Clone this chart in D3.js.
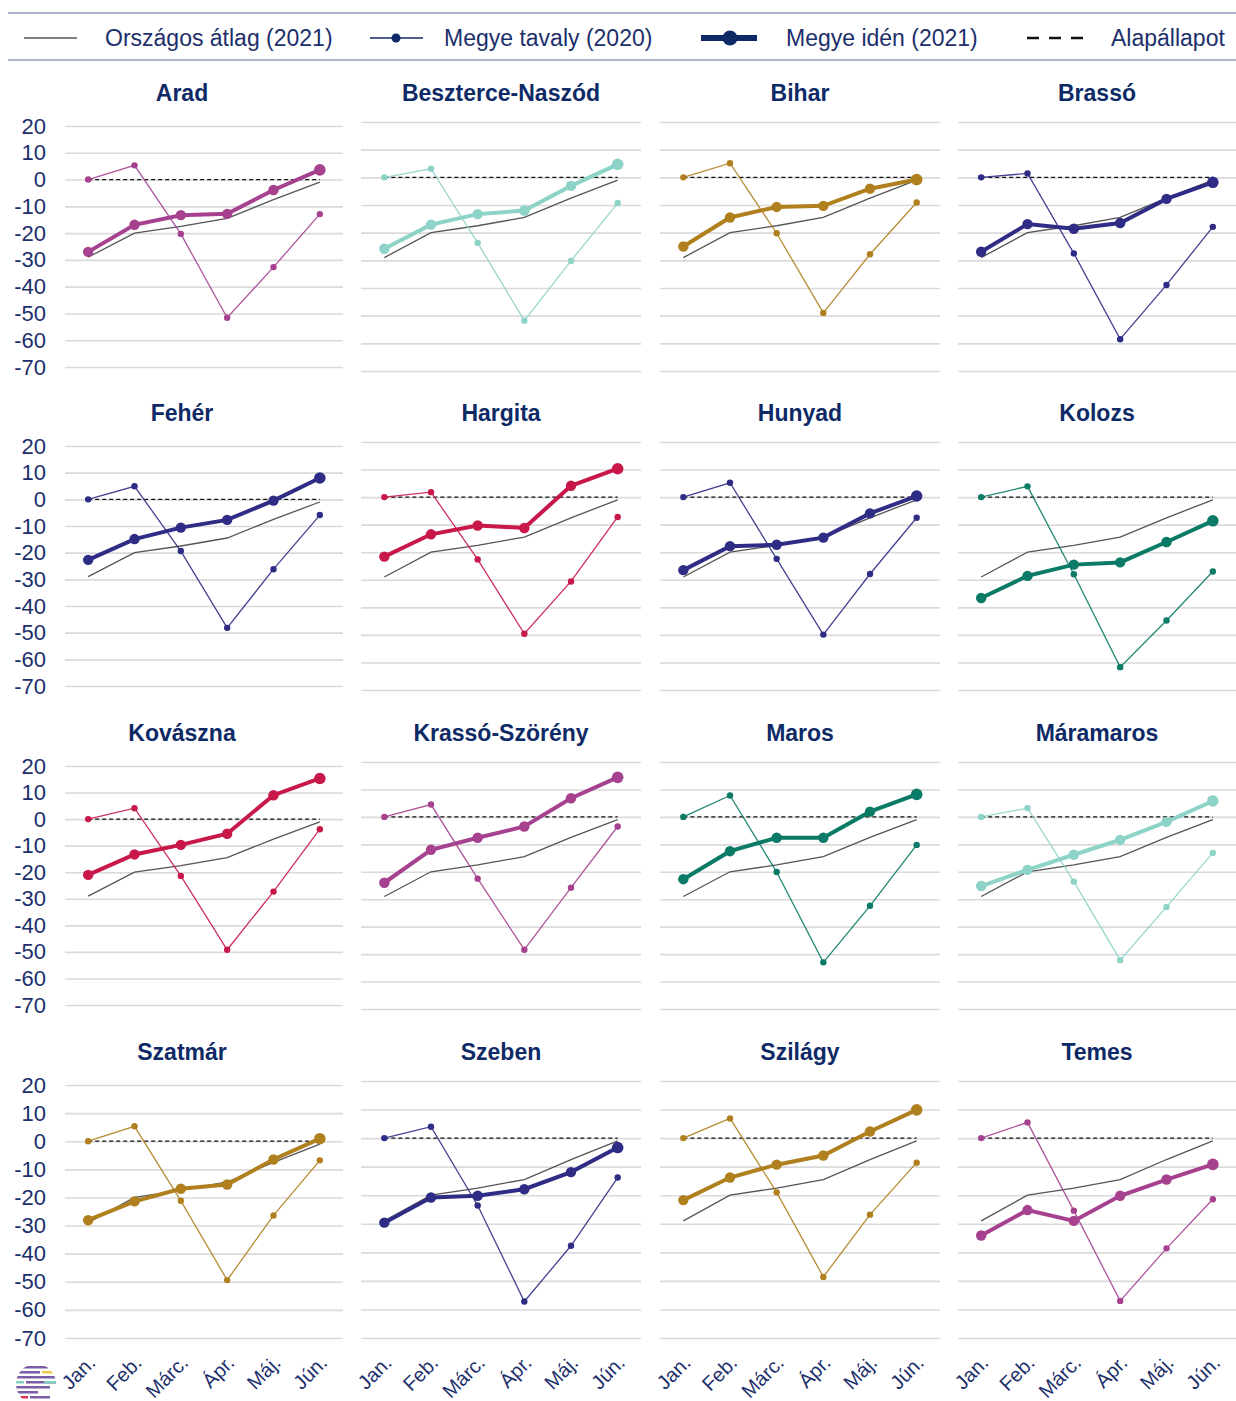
<!DOCTYPE html>
<html>
<head>
  <meta charset="utf-8">
  <title>Megyék 2020 / 2021</title>
  <script src="https://d3js.org/d3.v7.min.js"></script>
  <style>
    body { margin: 0; background: #fff; }
    svg text { font-family: "Liberation Sans", Arial, sans-serif; }
  </style>
</head>
<body>
<div id="chart"></div>
<script>
  // data
  const months = ["Jan.", "Feb.", "Márc.", "Ápr.", "Máj.", "Jún."];
  const counties = ["Arad", "Beszterce-Naszód", "Bihar", "Brassó",
    "Fehér", "Hargita", "Hunyad", "Kolozs",
    "Kovászna", "Krassó-Szörény", "Maros", "Máramaros",
    "Szatmár", "Szeben", "Szilágy", "Temes"];
  const countyColors = ["#a6418f", "#8dd3c7", "#b0801f", "#2f2c85",
    "#2f2c85", "#c8184a", "#2f2c85", "#0b7a66",
    "#c8184a", "#a6418f", "#0b7a66", "#8dd3c7",
    "#b0801f", "#2f2c85", "#b0801f", "#a6418f"];
  const nationalAvg2021 = [-29, -20, -17.5, -14.5, -7.5, -1];
  const baseline = [0, 0, 0, 0, 0, 0];
  const county2020 = [
    [0, 5.3, -20.3, -51.6, -32.7, -12.9],
    [0, 3.1, -23.7, -51.8, -30.2, -9.3],
    [0, 5.1, -20.2, -49, -27.8, -9.1],
    [0, 1.4, -27.5, -58.5, -38.9, -17.9],
    [0, 4.9, -19.4, -48.2, -26.2, -5.9],
    [0, 1.8, -22.6, -49.6, -30.6, -7.2],
    [0, 5.2, -22.4, -49.9, -27.9, -7.5],
    [0, 3.9, -28, -61.7, -44.8, -27],
    [0, 4.1, -21.4, -49.2, -27.3, -3.8],
    [0, 4.5, -22.5, -48.4, -25.8, -3.5],
    [0, 7.8, -20.1, -53, -32.4, -10.2],
    [0, 3.2, -23.6, -52.2, -32.8, -13.1],
    [0, 5.3, -21.2, -49.4, -26.4, -6.8],
    [0, 4, -23.6, -57.2, -37.7, -13.8],
    [0, 6.9, -19, -48.6, -26.8, -8.6],
    [0, 5.5, -25.4, -57, -38.6, -21.4]
  ];
  const county2021 = [
    [-27, -16.9, -13.3, -12.8, -3.9, 3.6],
    [-25.8, -17.1, -13.3, -12, -3.1, 4.7],
    [-25, -14.5, -10.7, -10.3, -4.1, -0.8],
    [-26.9, -16.9, -18.6, -16.5, -7.8, -1.8],
    [-22.7, -14.9, -10.6, -7.7, -0.5, 8],
    [-21.6, -13.5, -10.3, -11.2, 4.1, 10.3],
    [-26.5, -17.8, -17.3, -14.7, -5.9, 0.4],
    [-36.6, -28.6, -24.5, -23.7, -16.3, -8.6],
    [-21, -13.3, -9.7, -5.5, 9, 15.3],
    [-24, -12, -7.6, -3.5, 6.8, 14.4],
    [-22.7, -12.5, -7.6, -7.6, 1.9, 8.2],
    [-25.2, -19.3, -13.8, -8.4, -1.8, 5.8],
    [-28.1, -21.4, -16.9, -15.4, -6.5, 0.9],
    [-29.6, -20.8, -20.2, -17.9, -11.9, -3.3],
    [-21.7, -13.8, -9.3, -6.1, 2.3, 9.9],
    [-34.1, -25.2, -29, -20.2, -14.5, -9.2]
  ];
  const yTicks = [20, 10, 0, -10, -20, -30, -40, -50, -60, -70];

  const legendLabels = ["Országos átlag (2021)", "Megye tavaly (2020)", "Megye idén (2021)", "Alapállapot"];

  // layout
  const width = 1236, height = 1401;
  const navy = "#1c2f6b";
  const colX = [[65, 343], [361, 641], [660, 940], [958, 1236]];
  const rowY = [[122, 371], [442, 690], [762, 1009], [1081, 1338]];

  const svg = d3.select("#chart").append("svg")
    .attr("width", width)
    .attr("height", height);

  // legend
  svg.append("line").attr("x1", 8).attr("x2", width).attr("y1", 13).attr("y2", 13)
    .attr("stroke", "#aeb5ca").attr("stroke-width", 2);
  svg.append("line").attr("x1", 8).attr("x2", width).attr("y1", 60).attr("y2", 60)
    .attr("stroke", "#aeb5ca").attr("stroke-width", 2);

  const lg = svg.append("g");
  const ly = 38;
  lg.append("line").attr("x1", 24).attr("x2", 77).attr("y1", ly).attr("y2", ly)
    .attr("stroke", "#555").attr("stroke-width", 1.5);
  lg.append("line").attr("x1", 370).attr("x2", 423).attr("y1", ly).attr("y2", ly)
    .attr("stroke", "#0e2a66").attr("stroke-width", 1.5);
  lg.append("circle").attr("cx", 396).attr("cy", ly).attr("r", 4.5).attr("fill", "#0e2a66");
  lg.append("line").attr("x1", 701).attr("x2", 757).attr("y1", ly).attr("y2", ly)
    .attr("stroke", "#0e2a66").attr("stroke-width", 6);
  lg.append("circle").attr("cx", 730).attr("cy", ly).attr("r", 7.5).attr("fill", "#0e2a66");
  lg.append("line").attr("x1", 1027).attr("x2", 1083).attr("y1", ly).attr("y2", ly)
    .attr("stroke", "#111").attr("stroke-width", 2.6).attr("stroke-dasharray", "12,10");
  const legendX = [105, 444, 786, 1111];
  lg.selectAll("text.leg").data(legendLabels).join("text")
    .attr("class", "leg")
    .attr("x", (d, i) => legendX[i])
    .attr("y", ly + 8)
    .attr("font-size", 23)
    .attr("fill", navy)
    .text(d => d);

  // panels
  counties.forEach((name, i) => {
    const r = Math.floor(i / 4), c = i % 4;
    const [x0, x1] = colX[c];
    let [yTop, yBot] = rowY[r];
    if (c === 0) { yTop += 4; if (r < 3) yBot -= 4; }

    const x = d3.scalePoint().domain(months).range([x0, x1]).padding(0.5);
    const y = d3.scaleLinear().domain([-70, 20]).range([yBot, yTop]);

    const g = svg.append("g");

    // grid + y labels (hyphen minus, as in the original)
    const yAxis = g.append("g")
      .attr("transform", `translate(${x0},0)`)
      .call(d3.axisLeft(y).tickValues(yTicks).tickSize(-(x1 - x0)).tickPadding(19)
        .tickFormat(c === 0 ? d => String(d) : () => ""));
    yAxis.select(".domain").remove();
    yAxis.selectAll(".tick line").attr("stroke", "#dadada").attr("stroke-width", 1.6);
    yAxis.selectAll(".tick text")
      .attr("font-size", 22)
      .attr("fill", navy)
      .attr("font-family", "Liberation Sans, Arial, sans-serif");

    // title
    g.append("text")
      .attr("x", c === 0 ? 182 : (x0 + x1) / 2)
      .attr("y", rowY[r][0] - 21)
      .attr("text-anchor", "middle")
      .attr("font-size", 23)
      .attr("font-weight", "bold")
      .attr("fill", "#0e2a66")
      .text(name);

    const line = d3.line().x((d, j) => x(months[j])).y(d => y(d));

    // baseline
    g.append("path").datum(baseline)
      .attr("d", line).attr("fill", "none")
      .attr("stroke", "#111").attr("stroke-width", 1.3).attr("stroke-dasharray", "4,3");

    // national average
    g.append("path").datum(nationalAvg2021)
      .attr("d", line).attr("fill", "none")
      .attr("stroke", "#555").attr("stroke-width", 1.3);

    const col = countyColors[i];

    // last year
    g.append("path").datum(county2020[i])
      .attr("d", line).attr("fill", "none")
      .attr("stroke", col).attr("stroke-width", 1.3).attr("opacity", 0.9);
    g.selectAll("circle.prev").data(county2020[i]).join("circle")
      .attr("class", "prev")
      .attr("cx", (d, j) => x(months[j]))
      .attr("cy", d => y(d))
      .attr("r", 3.2)
      .attr("fill", col);

    // this year
    g.append("path").datum(county2021[i])
      .attr("d", line).attr("fill", "none")
      .attr("stroke", col).attr("stroke-width", 4);
    g.selectAll("circle.cur").data(county2021[i]).join("circle")
      .attr("class", "cur")
      .attr("cx", (d, j) => x(months[j]))
      .attr("cy", d => y(d))
      .attr("r", (d, j) => j === 5 ? 5.8 : 5.2)
      .attr("fill", col);

    // month labels on the bottom row
    if (r === 3) {
      const xAxis = g.append("g")
        .attr("transform", `translate(0,${rowY[r][1]})`)
        .call(d3.axisBottom(x).tickSize(0).tickPadding(0));
      xAxis.select(".domain").remove();
      xAxis.selectAll(".tick text")
        .attr("font-size", 20)
        .attr("fill", navy)
        .attr("font-family", "Liberation Sans, Arial, sans-serif")
        .attr("text-anchor", "end")
        .attr("dy", null)
        .attr("y", null)
        .attr("transform", "translate(8,26) rotate(-45)");
    }
  });

  // small logo in the lower-left corner
  const logo = svg.append("g");
  logo.append("clipPath").attr("id", "logoClip")
    .append("circle").attr("cx", 36).attr("cy", 1384).attr("r", 20);
  const stripes = [
    ["#7b5ea7", 1366, 18, 30], ["#7b5ea7", 1371, 16, 24], ["#f2c94c", 1371, 42, 14],
    ["#7b5ea7", 1376, 16, 40], ["#7fd1c0", 1381, 14, 10], ["#7b5ea7", 1381, 26, 30],
    ["#7fd1c0", 1381, 44, 12], ["#7b5ea7", 1386, 14, 36], ["#7b5ea7", 1391, 14, 24],
    ["#e0335a", 1396, 16, 12], ["#7b5ea7", 1396, 30, 20]
  ];
  logo.append("g").attr("clip-path", "url(#logoClip)")
    .selectAll("rect").data(stripes).join("rect")
    .attr("x", d => d[2]).attr("y", d => d[1]).attr("width", d => d[3]).attr("height", 2.5)
    .attr("fill", d => d[0]);
</script>
</body>
</html>
